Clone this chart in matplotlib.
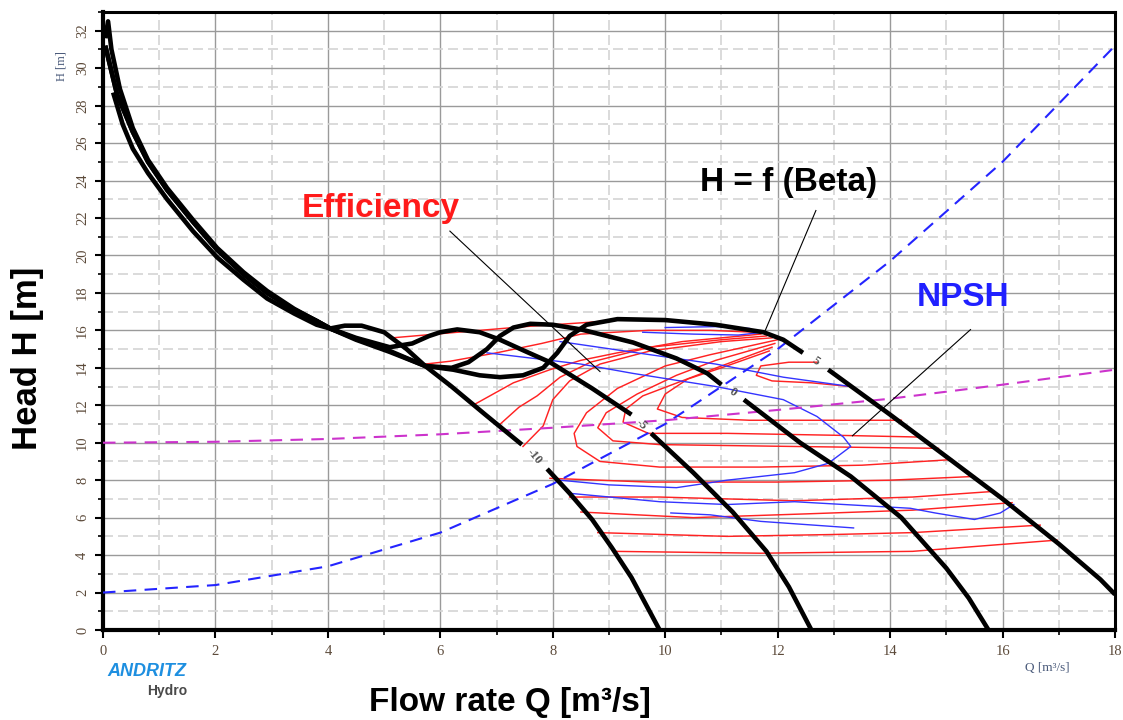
import matplotlib.pyplot as plt
from matplotlib.ticker import MultipleLocator

plt.rcParams['font.family'] = ['Liberation Sans', 'DejaVu Sans']

# ---- iso-Beta head curves H = f(Q), each split around its contour label ----
top_bundle = [(0.04, 31.2), (0.25, 28.6), (0.53, 26.6), (0.8, 25.0), (1.14, 23.5),
              (1.6, 21.8), (2.03, 20.3), (2.5, 19.0), (2.92, 18.0), (3.4, 17.1),
              (3.8, 16.5), (4.04, 16.1)]
top_high = [(0.04, 31.6), (0.09, 32.5), (0.15, 31.0), (0.3, 28.9), (0.53, 26.8), (0.8, 25.1),
            (1.14, 23.6), (1.6, 21.9), (2.03, 20.4), (2.5, 19.1), (2.92, 18.1),
            (3.4, 17.15), (3.8, 16.5), (4.04, 16.1)]
top_low = [(0.18, 28.7), (0.35, 27.0), (0.53, 25.7), (0.8, 24.4), (1.14, 23.0),
           (1.6, 21.3), (2.03, 19.9), (2.5, 18.7), (2.92, 17.7), (3.4, 16.9),
           (3.8, 16.3), (4.04, 16.1)]

beta_m10_a = top_low + [(4.3, 16.25), (4.6, 16.25), (5.0, 15.9), (5.4, 15.0), (5.73, 14.1),
                        (6.2, 13.0), (6.8, 11.5), (7.45, 9.9)]
beta_m10_b = [(7.9, 8.6), (8.3, 7.3), (8.7, 5.9), (9.05, 4.4), (9.4, 2.8), (9.65, 1.4), (9.9, 0.0)]

beta_m5_a = top_bundle + [(4.5, 15.6), (5.1, 15.1), (5.5, 15.3), (5.8, 15.7), (6.0, 15.9),
                          (6.3, 16.05), (6.7, 15.9), (7.06, 15.5), (7.5, 14.9), (7.95, 14.3),
                          (8.7, 12.9), (9.4, 11.5)]
beta_m5_b = [(9.75, 10.5), (10.5, 8.4), (11.2, 6.3), (11.8, 4.2), (12.2, 2.3), (12.6, 0.0)]

beta_0_a = top_bundle + [(4.5, 15.55), (5.1, 14.9), (5.73, 14.1), (6.2, 14.0), (6.5, 14.3),
                         (6.83, 15.0), (7.06, 15.7), (7.3, 16.15), (7.6, 16.35), (8.0, 16.3),
                         (8.5, 16.05), (9.43, 15.35), (10.2, 14.5), (10.75, 13.7), (11.0, 13.1)]
beta_0_b = [(11.4, 12.3), (12.4, 10.0), (13.3, 8.2), (14.2, 6.0), (15.0, 3.3), (15.4, 1.7), (15.75, 0.0)]

beta_5_a = top_high + [(4.5, 15.5), (5.1, 14.85), (5.73, 14.1), (6.23, 13.9), (6.7, 13.6),
                       (7.06, 13.5), (7.47, 13.6), (7.83, 14.0), (8.08, 14.8), (8.3, 15.7),
                       (8.6, 16.3), (9.15, 16.6), (10.0, 16.55), (10.9, 16.3), (11.75, 15.9),
                       (12.1, 15.5), (12.45, 14.8)]
beta_5_b = [(12.9, 13.9), (14.0, 11.5), (15.07, 9.1), (16.0, 7.0), (17.0, 4.6), (17.74, 2.7), (18.0, 1.9)]

beta_labels = ['-10', '-5', '0', '5']
beta_label_pos = [(7.67, 9.25), (9.58, 11.0), (11.2, 12.7), (12.68, 14.35)]
beta_label_rot = [-50, -44, -34, -34]

# ---- efficiency iso-lines ----
eff_lines = [
    [(5.14, 15.6), (6.5, 15.95), (7.5, 16.2), (8.5, 16.4), (9.4, 16.6), (10.0, 16.55)],
    [(5.73, 14.2), (6.17, 14.35), (7.0, 14.8), (7.8, 15.3), (8.5, 15.8), (9.7, 16.0), (10.8, 16.0), (11.6, 15.9)],
    [(6.58, 12.0), (7.3, 13.2), (7.95, 13.9), (8.5, 14.4), (9.15, 14.8), (10.3, 15.4), (11.7, 15.8)],
    [(7.03, 10.9), (7.4, 11.9), (7.72, 12.5), (8.13, 13.5), (8.67, 14.3), (9.73, 15.1), (11.0, 15.5), (11.8, 15.7)],
    [(7.47, 9.8), (7.83, 10.9), (8.0, 12.3), (8.3, 13.3), (8.84, 14.2), (9.73, 14.9), (11.0, 15.4), (11.9, 15.6)],
    [(12.0, 15.5), (10.8, 14.7), (10.0, 14.1), (9.15, 12.9), (8.6, 11.6), (8.38, 10.5), (8.43, 9.8),
     (8.84, 9.0), (9.9, 8.7), (11.7, 8.7), (13.5, 8.8), (15.1, 9.1)],
    [(11.95, 15.3), (10.9, 14.4), (10.2, 13.6), (9.5, 12.6), (8.95, 11.6), (8.8, 10.8), (9.07, 10.1),
     (9.9, 9.9), (12.3, 9.8), (14.86, 9.7)],
    [(11.9, 15.1), (11.0, 14.1), (10.3, 13.3), (9.6, 12.5), (9.3, 11.8), (9.25, 11.1), (9.7, 10.5),
     (11.1, 10.5), (13.0, 10.4), (14.57, 10.3)],
    [(11.85, 14.9), (11.0, 14.0), (10.4, 13.4), (10.0, 12.6), (9.86, 11.8), (10.3, 11.35),
     (11.5, 11.2), (13.3, 11.2), (14.2, 11.2)],
    [(12.7, 14.3), (12.2, 14.3), (11.7, 14.1), (11.62, 13.6), (11.9, 13.3), (12.6, 13.2), (13.3, 13.0)],
    [(7.95, 8.1), (9.7, 7.9), (12.0, 7.9), (14.0, 8.0), (15.5, 8.2)],
    [(8.3, 7.1), (9.9, 7.1), (12.3, 6.9), (14.4, 7.1), (15.84, 7.4)],
    [(8.5, 6.3), (10.5, 6.0), (12.5, 6.2), (14.4, 6.4), (16.17, 6.8)],
    [(8.8, 5.2), (11.1, 5.0), (13.0, 5.1), (14.4, 5.2), (16.67, 5.6)],
    [(9.07, 4.2), (11.7, 4.1), (14.4, 4.2), (16.97, 4.8)],
]

# ---- NPSH iso-lines ----
npsh_lines = [
    [(9.6, 15.9), (10.5, 15.8), (11.3, 15.75), (11.75, 15.9)],
    [(10.0, 16.15), (10.9, 16.2), (11.5, 16.1)],
    [(8.13, 15.4), (9.73, 14.7), (10.9, 14.2), (12.1, 13.5), (13.3, 13.0)],
    [(6.83, 14.8), (7.95, 14.4), (8.5, 14.2), (9.43, 13.7), (10.9, 13.0), (12.1, 12.3), (12.7, 11.4),
     (13.17, 10.3), (13.3, 9.8), (12.9, 8.9), (12.3, 8.4), (11.1, 8.0), (10.2, 7.6), (9.0, 7.75), (8.13, 8.0)],
    [(8.3, 7.3), (9.9, 6.85), (11.1, 6.7), (12.3, 6.85), (14.36, 6.5), (14.8, 6.25), (15.5, 5.9),
     (15.96, 6.25), (16.2, 6.7)],
    [(10.1, 6.25), (10.8, 6.15), (11.7, 5.8), (13.35, 5.45)],
]

# ---- system / cavitation parabolas ----
sys_q = [0, 2, 4, 6, 8, 10, 12, 14, 16, 18]
sys_h = [2.0, 2.4, 3.4, 5.2, 7.8, 11.0, 15.0, 19.7, 25.0, 31.2]
cav_q = [0, 2, 4, 6, 8, 10, 12, 14, 16, 18]
cav_h = [10.0, 10.05, 10.2, 10.45, 10.8, 11.2, 11.75, 12.35, 13.1, 13.9]

W, H = 1123, 720
fig = plt.figure(figsize=(W / 100, H / 100), dpi=100)
ax = fig.add_axes([103 / W, 90 / H, 1012 / W, 618 / H])
ax.set_xlim(0, 18)
ax.set_ylim(0, 33)

ax.xaxis.set_major_locator(MultipleLocator(2))
ax.xaxis.set_minor_locator(MultipleLocator(1))
ax.yaxis.set_major_locator(MultipleLocator(2))
ax.yaxis.set_minor_locator(MultipleLocator(1))
ax.grid(which='major', color='#9a9a9a', linewidth=1.0, zorder=0)
ax.grid(which='minor', color='#d4d4d4', linewidth=1.2, linestyle=(0, (6, 3)), zorder=0)
ax.set_axisbelow(True)

tick_col = '#5c4a3a'
ax.tick_params(which='major', direction='out', length=6, width=1.5, colors='black',
               labelcolor=tick_col, labelsize=10.5)
ax.tick_params(axis='x', which='major', pad=5)
ax.tick_params(axis='y', which='major', pad=4)
ax.tick_params(which='minor', direction='out', length=3.5, width=1.2, colors='black')
ax.set_xticks(range(0, 19, 2))
ax.set_xticklabels([str(v) for v in range(0, 19, 2)], family='Liberation Serif')
ax.set_yticks(range(0, 33, 2))
ax.set_yticklabels([str(v) for v in range(0, 33, 2)], family='Liberation Serif',
                   rotation=90, va='center')
for side in ['left', 'bottom']:
    ax.spines[side].set_linewidth(3.0)
for side in ['top', 'right']:
    ax.spines[side].set_linewidth(2.2)

# parabolas
ax.plot(sys_q, sys_h, color='#2424ff', linewidth=1.5, linestyle=(0, (6, 4)), zorder=3)
ax.plot(cav_q, cav_h, color='#cc33cc', linewidth=1.5, linestyle=(0, (6, 4)), zorder=3)

for line in eff_lines:
    q, h = zip(*line)
    ax.plot(q, h, color='#ff2222', linewidth=1.05, zorder=2)
for line in npsh_lines:
    q, h = zip(*line)
    ax.plot(q, h, color='#3434ff', linewidth=1.0, zorder=2)

for seg in [beta_m10_a, beta_m10_b, beta_m5_a, beta_m5_b, beta_0_a, beta_0_b, beta_5_a, beta_5_b]:
    q, h = zip(*seg)
    ax.plot(q, h, color='black', linewidth=3.3, solid_capstyle='butt', zorder=4)

for txt, (q, h), rot in zip(beta_labels, beta_label_pos, beta_label_rot):
    ax.text(q, h, txt, rotation=rot, ha='center', va='center', fontsize=9,
            family='Liberation Serif', fontweight='bold', color='#505050', zorder=5)

# leader lines for the captions
ax.plot([6.17, 8.84], [21.3, 13.8], color='black', linewidth=0.8, zorder=5)
ax.plot([12.68, 11.78], [22.4, 16.0], color='black', linewidth=0.8, zorder=5)
ax.plot([15.43, 13.33], [16.04, 10.37], color='black', linewidth=0.8, zorder=5)

ax.text(4.95, 22.5, 'Efficiency', color='#ff1a1a', fontsize=24, fontweight='bold',
        ha='center', va='center')
ax.text(12.2, 23.9, 'H = f (Beta)', color='black', fontsize=24, fontweight='bold',
        ha='center', va='center')
ax.text(15.3, 17.75, 'NPSH', color='#2020ff', fontsize=24, fontweight='bold',
        ha='center', va='center')

# small axis captions
fig.text(62 / W, 1 - 66 / H, 'H [m]', rotation=90, ha='center', va='center',
         fontsize=9, family='Liberation Serif', color='#4a5a7a')
fig.text(1047 / W, 1 - 668 / H, 'Q [m³/s]', ha='center', va='center',
         fontsize=9.5, family='Liberation Serif', color='#4a5a7a')

# main axis titles
fig.text(28 / W, 1 - 358 / H, 'Head H [m]', rotation=90, ha='center', va='center',
         fontsize=25, fontweight='bold')
fig.text(510 / W, 1 - 702 / H, 'Flow rate Q [m³/s]', ha='center', va='center',
         fontsize=24, fontweight='bold')

# logo
fig.text(147 / W, 1 - 672 / H, 'ANDRITZ', ha='center', va='center', fontsize=13,
         fontweight='heavy', style='italic', color='#1e8fe0')
fig.text(167 / W, 1 - 691 / H, 'Hydro', ha='center', va='center', fontsize=10,
         fontweight='bold', color='#4a4a4a')

fig.savefig('out.png', dpi=100)
